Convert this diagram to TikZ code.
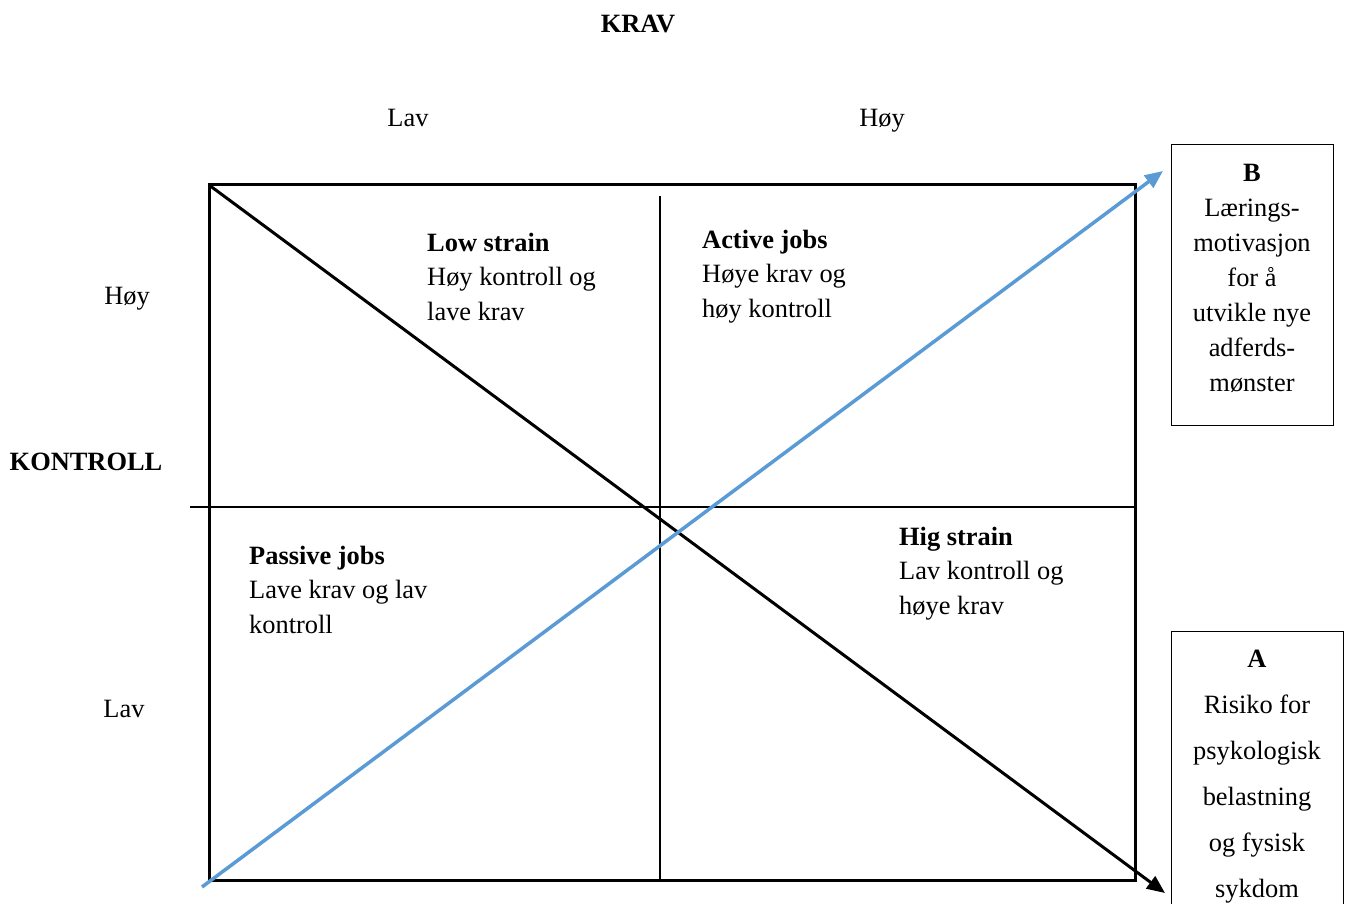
\documentclass[tikz,border=0pt]{standalone}
\usepackage{fontspec}
\setmainfont{Liberation Serif}
\usetikzlibrary{arrows.meta}
\definecolor{blueline}{HTML}{5B9BD5}
\begin{document}
\begin{tikzpicture}[x=1pt,y=-1pt,
  lbl/.style={inner sep=0pt, anchor=base, font=\fontsize{26.4}{35}\selectfont},
  quad/.style={inner sep=0pt, align=left, anchor=north west, font=\fontsize{26.4}{34.5}\selectfont},
  sidebox/.style={draw, line width=1pt, inner sep=0pt},
  sidetext/.style={inner sep=0pt, align=center, anchor=north},
  frame/.style={line width=3pt},
  midline/.style={line width=1.2pt},
  arrowtip/.style={-{Triangle[length=18pt,width=15pt]}}]
\useasboundingbox (0,0) rectangle (1347,904);
\clip (0,0) rectangle (1347,904);

% axis labels
\node[lbl] (krav) at (638,33) {\textbf{KRAV}};
\node[lbl] (lavtop) at (408,127) {Lav};
\node[lbl] (hoytop) at (882,127) {Høy};
\node[lbl] (hoyleft) at (127,304) {Høy};
\node[lbl] (kontroll) at (86,470) {\textbf{KONTROLL}};
\node[lbl] (lavleft) at (124,717) {Lav};

% frame and mid lines
\draw[frame] (209,185) rectangle (1135,880);
\coordinate (hl) at (190,507);
\coordinate (hr) at (1135,507);
\coordinate (vt) at (660,196);
\coordinate (vb) at (660,880);
\draw[midline] (hl) -- (hr);
\draw[midline] (vt) -- (vb);

% quadrant texts
\node[quad] (low) at (427,226.85) {\textbf{Low strain}\strut\\Høy kontroll og\strut\\lave krav\strut};
\node[quad] (active) at (702,223.85) {\textbf{Active jobs}\strut\\Høye krav og\strut\\høy kontroll\strut};
\node[quad] (passive) at (249,539.85) {\textbf{Passive jobs}\strut\\Lave krav og lav\strut\\kontroll\strut};
\node[quad] (high) at (899,520.85) {\textbf{Hig strain}\strut\\Lav kontroll og\strut\\høye krav\strut};

% side boxes
\node[sidebox, minimum width=162pt, minimum height=280pt] (boxB) at (1252,285) {};
\node[sidetext, font=\fontsize{26.4}{35}\selectfont] (textB) at (1252,156.5)
  {\textbf{B}\strut\\Lærings-\strut\\motivasjon\strut\\for å\strut\\utvikle nye\strut\\adferds-\strut\\mønster\strut};
\node[sidebox, minimum width=172pt, minimum height=300pt] (boxA) at (1257,781) {};
\node[sidetext, font=\fontsize{26.4}{46}\selectfont] (textA) at (1257,634.8)
  {\textbf{A}\strut\\Risiko for\strut\\psykologisk\strut\\belastning\strut\\og fysisk\strut\\sykdom\strut};

% diagonals
\coordinate (ks) at (209,185);
\coordinate (ke) at (1165,893);
\coordinate (bs) at (202,887);
\coordinate (be) at (1163,171);
\draw[line width=3pt, arrowtip] (ks) -- (ke);
\draw[blueline, line width=3.5pt, arrowtip] (bs) -- (be);
\end{tikzpicture}
\end{document}
